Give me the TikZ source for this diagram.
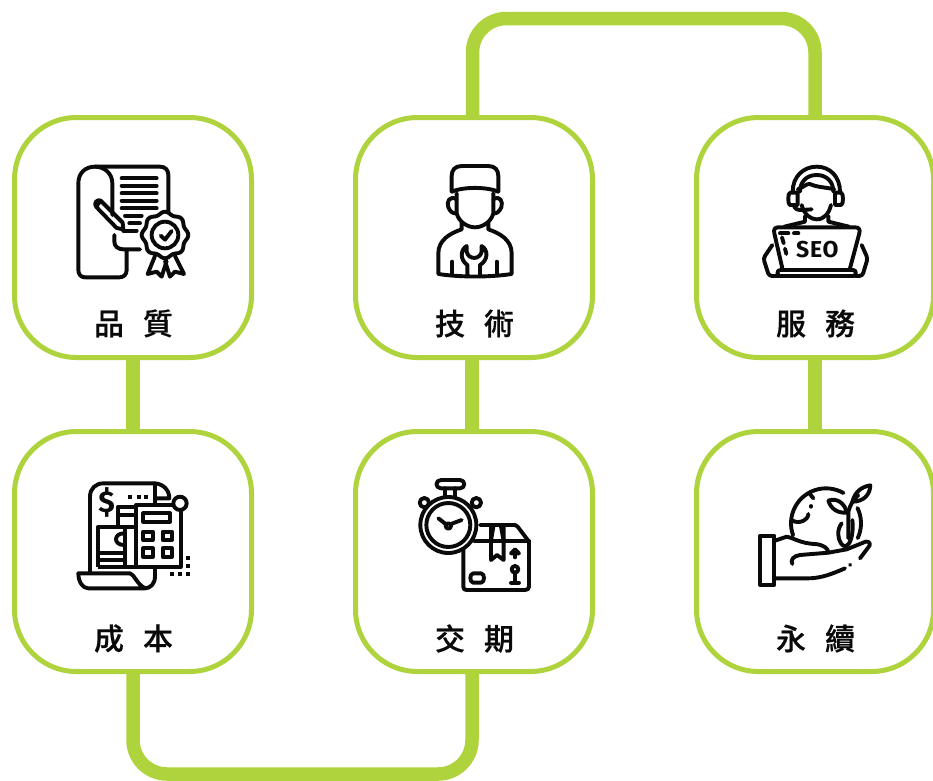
\documentclass[tikz,border=0pt]{standalone}
\usepackage{fontspec}
\newfontfamily\cjkfont{Noto Sans CJK TC Medium}[FakeBold=0.5]
\newfontfamily\seofont{Fira Sans}[LetterSpace=3]
\definecolor{leaf}{HTML}{AFD33D}
\definecolor{ink}{HTML}{0A0A0A}
\pgfdeclarelayer{links}
\pgfsetlayers{links,main}
\tikzset{
  linkline/.style={line width=13.5pt, leaf, rounded corners=34pt},
  itembox/.style={draw=leaf, line width=5pt, fill=white, rounded corners=62pt,
    minimum width=237pt, minimum height=240pt, inner sep=0pt},
  itemlabel/.style={font=\cjkfont\fontsize{30}{36}\selectfont, text=ink, inner sep=0pt},
  iconline/.style={ink, line width=3.9pt, line cap=round, line join=round},
  iconat/.style 2 args={shift={(#1,#2)}, x=0.3333pt, y=-0.3333pt},
}
\begin{document}
\begin{tikzpicture}[x=1pt, y=-1pt]
  \useasboundingbox (0,0) rectangle (933,780);

  \coordinate (topbend) at (640,18.5);
  \coordinate (lowbend) at (300,774);

  % Boxes and labels
  \node[itembox] (quality) at (133,237.5) {};
  \node[itembox] (tech) at (474,237.5) {};
  \node[itembox] (service) at (815,237.5) {};
  \node[itembox] (cost) at (133,551.5) {};
  \node[itembox] (delivery) at (474,551.5) {};
  \node[itembox] (green) at (815,551.5) {};

  \node[itemlabel] (qualitytext) at (133.5,323.5) {品\hspace{19pt}質};
  \node[itemlabel] (techtext) at (474.5,323.5) {技\hspace{19pt}術};
  \node[itemlabel] (servicetext) at (815.5,323.5) {服\hspace{19pt}務};
  \node[itemlabel] (costtext) at (133.5,638.5) {成\hspace{19pt}本};
  \node[itemlabel] (deliverytext) at (474.5,638.5) {交\hspace{19pt}期};
  \node[itemlabel] (greentext) at (815.5,638.5) {永\hspace{19pt}續};

  % Links, behind the boxes
  \begin{pgfonlayer}{links}
    \draw[linkline] ([xshift=-1.5pt]tech.north) -- ([xshift=-1.5pt]tech.north |- topbend) -- (service.north |- topbend) -- (service.north);
    \draw[linkline] (cost.south) -- (cost.south |- lowbend) -- ([xshift=-2pt]delivery.south |- lowbend) -- ([xshift=-2pt]delivery.south);
    \draw[linkline] (quality.south) -- (cost.north);
    \draw[linkline] ([xshift=-2pt]tech.south) -- ([xshift=-2pt]delivery.north);
    \draw[linkline] (service.south) -- (green.north);
  \end{pgfonlayer}

  % Document with rosette
  \begin{scope}[iconat={60}{150}, iconline]
    \draw (200,300) -- (200,360) .. controls (200,375) and (190,382) .. (178,382) -- (75,382)
      .. controls (62,382) and (55,372) .. (55,360) -- (55,100)
      .. controls (55,70) and (75,50) .. (105,50) -- (300,50)
      .. controls (316,50) and (325,60) .. (325,75) -- (325,190);
    \draw (105,50) .. controls (135,50) and (157,72) .. (157,100) -- (157,195);
    \foreach \liney in {85,107,130,152,175} \draw (185,\liney) -- (290,\liney);
    \draw (195,197) -- (245,197);
    \draw (208,220) -- (240,220);
    \draw (108,170) -- (122,152) -- (188,218) -- (190,238) -- (170,234) -- cycle;
    \draw (108,170) .. controls (100,160) and (112,146) .. (122,152);
    \draw (190,242) -- (230,242);
    \draw (163,255) -- (163,275) .. controls (163,290) and (175,298) .. (190,298) -- (240,298);
    \draw[fill=white] plot[domain=0:355, samples=72, smooth cycle]
      ({315+(66+4*cos(8*\x))*cos(\x)},{255+(66+4*cos(8*\x))*sin(\x)});
    \draw (315,255) circle[radius=40];
    \draw (302,257) -- (315,269) -- (335,243);
    \draw (285,318) -- (263,372) -- (290,365) -- (305,380) -- (320,333);
    \draw (345,318) -- (372,372) -- (345,365) -- (330,380) -- (315,333);
  \end{scope}

  % Technician
  \begin{scope}[iconat={410}{150}, iconline]
    \draw (125,125) -- (125,78) .. controls (125,60) and (135,48) .. (155,48) -- (235,48)
      .. controls (255,48) and (265,60) .. (265,78) -- (265,125);
    \draw (125,125) .. controls (160,110) and (230,110) .. (265,125);
    \draw (140,148) .. controls (120,135) and (108,155) .. (115,172) .. controls (120,185) and (130,192) .. (140,190);
    \draw (250,148) .. controls (270,135) and (280,155) .. (274,172) .. controls (268,185) and (260,192) .. (250,190);
    \draw (140,130) -- (140,190) .. controls (146,215) and (172,232) .. (195,232)
      .. controls (218,232) and (244,215) .. (250,190) -- (250,130);
    \draw (155,218) -- (155,238) .. controls (120,250) and (85,270) .. (85,310) -- (85,372)
      .. controls (150,382) and (240,382) .. (305,372) -- (305,310)
      .. controls (305,270) and (270,250) .. (235,238) -- (235,218);
    \draw (127,335) -- (127,375);
    \draw (260,335) -- (260,375);
    \draw (172,378) -- (172,345) .. controls (150,330) and (150,300) .. (170,288) -- (170,305)
      .. controls (175,330) and (210,330) .. (215,305) -- (215,288)
      .. controls (235,300) and (235,330) .. (210,345) -- (210,378);
  \end{scope}

  % Support agent at laptop
  \begin{scope}[iconat={745}{150}, iconline]
    \draw (143,125) .. controls (143,80) and (175,50) .. (215,50)
      .. controls (255,50) and (285,80) .. (285,125);
    \draw (165,125) .. controls (165,95) and (185,75) .. (215,75)
      .. controls (245,75) and (265,95) .. (265,125);
    \draw (135,128) -- (158,128) -- (158,165) -- (135,165) .. controls (128,165) and (128,128) .. (135,128);
    \draw (270,128) -- (288,128) .. controls (296,128) and (296,165) .. (288,165) -- (270,165) -- cycle;
    \draw (158,118) .. controls (175,112) and (185,100) .. (195,102) .. controls (215,112) and (245,112) .. (268,118);
    \draw (170,165) .. controls (178,195) and (198,208) .. (215,208) .. controls (238,208) and (252,190) .. (258,165);
    \draw (147,167) .. controls (150,178) and (158,180) .. (170,180) -- (200,178);
    \draw (180,198) -- (180,215) -- (118,230);
    \draw (250,198) -- (250,215) -- (312,230);
    \draw (112,355) -- (88,250) .. controls (85,238) and (90,232) .. (100,232) -- (330,232)
      .. controls (342,232) and (346,238) .. (343,250) -- (315,355);
    \draw (105,360) -- (325,360) .. controls (335,360) and (335,378) .. (325,378) -- (105,378)
      .. controls (95,378) and (95,360) .. (105,360);
    \draw[rounded corners=3pt] (82,285) -- (55,325) -- (72,378) -- (100,378);
    \draw[rounded corners=3pt] (350,285) -- (368,325) -- (352,378) -- (330,378);
    \draw (105,250) -- (130,250);
    \draw (147,250) -- (160,250);
    \draw (111,262) -- (116,280);
    \draw (120,296) -- (124,312);
    \node[font=\seofont\bfseries\fontsize{23}{26}\selectfont, text=ink, inner sep=0pt] (seotext) at (217,298) {SEO};
  \end{scope}

  % Bill and calculator
  \begin{scope}[iconat={60}{470}, iconline, line cap=butt]
    \draw (90,310) -- (90,80) .. controls (90,55) and (108,40) .. (130,40) -- (285,40);
    \draw (285,102) -- (285,40) .. controls (310,42) and (328,60) .. (328,85) -- (285,85);
    \draw (285,290) -- (285,320) .. controls (285,342) and (270,355) .. (255,355)
      -- (85,355) .. controls (68,355) and (55,335) .. (55,310) -- (210,310)
      .. controls (225,315) and (228,340) .. (255,355);
    \node[font=\seofont\bfseries\fontsize{30}{34}\selectfont, text=ink, inner sep=0pt] (dollartext) at (140,97) {\$};
    \draw (205,80) -- (217,80) (230,80) -- (242,80) (253,80) -- (265,80);
    \draw (115,290) -- (115,170) -- (228,170);
    \draw (115,290) -- (228,290);
    \draw (115,250) -- (192,250);
    \draw (115,270) -- (192,270);
    \draw (195,170) -- (195,290);
    \draw (192,190) .. controls (160,190) and (160,225) .. (192,225);
    \draw (175,170) -- (175,110) -- (228,110);
    \draw (175,135) -- (228,135);
    \draw (228,290) -- (228,105) -- (340,105);
    \draw (228,290) -- (362,290) -- (362,120);
    \draw[fill=white] (360,100) circle[radius=20];
    \draw (250,130) rectangle (330,155);
    \foreach \btnx in {250,308} \foreach \btny in {185,235}
      \draw (\btnx,\btny) rectangle ++(28,25);
    \draw (378,265) -- (390,265) (378,288) -- (390,288) (378,312) -- (390,312);
    \draw (330,312) -- (342,312) (354,312) -- (366,312);
  \end{scope}

  % Stopwatch and parcel
  \begin{scope}[iconat={405}{470}, iconline]
    \draw (175,240) -- (175,350) .. controls (175,357) and (178,360) .. (185,360) -- (360,360)
      .. controls (367,360) and (372,357) .. (372,350) -- (372,215) -- (338,170) .. controls (334,165) and (330,165) .. (325,165) -- (225,165);
    \draw (208,212) -- (372,212);
    \draw (258,170) -- (258,270) -- (276,255) -- (296,270) -- (296,170);
    \draw (258,212) -- (265,170);
    \draw (296,212) -- (288,170);
    \draw (120,55) -- (120,85);
    \draw (150,55) -- (150,85);
    \draw (108,30) -- (165,30) .. controls (182,30) and (182,55) .. (165,55) -- (108,55)
      .. controls (90,55) and (90,30) .. (108,30);
    \draw[fill=white] (58,98) circle[radius=14];
    \draw[fill=white] (214,98) circle[radius=14];
    \draw[fill=white] (130,165) circle[radius=84];
    \draw (130,165) circle[radius=66];
    \draw (100,145) -- (122,162);
    \draw (138,162) -- (170,150);
    \draw (130,168) circle[radius=8];
    \draw (330,262) -- (330,240);
    \draw[fill=ink] (318,250) -- (330,238) -- (342,250) -- cycle;
    \draw (330,298) circle[radius=10];
    \draw (330,308) -- (330,337);
    \draw (318,338) -- (342,338);
    \draw (205,310) -- (228,310) .. controls (240,310) and (240,338) .. (228,338) -- (205,338)
      .. controls (193,338) and (193,310) .. (205,310);
  \end{scope}

  % Hand with globe and sprout
  \begin{scope}[iconat={745}{470}, iconline]
    \draw plot[domain=160:300, samples=24] ({243+105*cos(\x)},{160+105*sin(\x)});
    \draw plot[domain=-26:25, samples=10] ({243+105*cos(\x)},{160+105*sin(\x)});
    \draw (140,150) .. controls (160,165) and (190,150) .. (190,132);
    \draw (198,108) -- (198,110);
    \draw (195,72) -- (205,85);
    \draw (310,205) -- (310,125) .. controls (315,105) and (325,90) .. (340,75);
    \draw (322,95) .. controls (330,65) and (350,50) .. (376,46) .. controls (375,75) and (355,95) .. (322,95);
    \draw (250,92) .. controls (275,82) and (300,100) .. (305,128) .. controls (280,130) and (258,118) .. (250,92);
    \draw (290,160) .. controls (275,180) and (278,205) .. (288,220) .. controls (295,232) and (305,230) .. (312,220) .. controls (322,205) and (325,175) .. (322,150);
    \draw (45,197) -- (88,197) -- (88,345) -- (45,345) -- cycle;
    \draw (90,212) -- (125,200) .. controls (150,205) and (165,220) .. (210,222)
      .. controls (235,224) and (250,235) .. (250,248) -- (165,255)
      .. controls (145,258) and (135,270) .. (142,282);
    \draw (250,248) -- (305,238) -- (362,215) .. controls (375,212) and (378,225) .. (370,232) -- (345,265);
    \draw (90,325) -- (190,325) .. controls (230,325) and (265,310) .. (300,295);
    \draw (315,285) -- (316,284);
  \end{scope}

\end{tikzpicture}
\end{document}
